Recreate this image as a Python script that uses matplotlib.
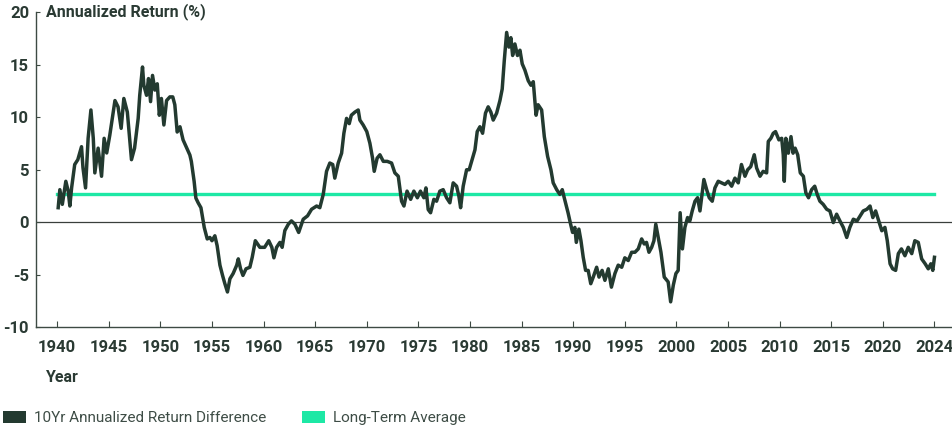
import matplotlib
matplotlib.use("Agg")
import matplotlib.pyplot as plt
from matplotlib.patches import Patch

plt.rcParams['font.family'] = ['Roboto', 'DejaVu Sans']

# ---- data ----
years = [
    1940.10, 1940.26, 1940.50, 1940.84, 1941.07, 1941.23, 1941.40, 1941.70, 1942.00, 1942.36,
    1942.50, 1942.75, 1943.00, 1943.27, 1943.50, 1943.65, 1943.97, 1944.30, 1944.55, 1944.80,
    1945.10, 1945.60, 1945.90, 1946.20, 1946.46, 1946.80, 1947.20, 1947.50, 1947.85, 1948.00,
    1948.27, 1948.40, 1948.66, 1948.85, 1949.05, 1949.24, 1949.47, 1949.70, 1949.90, 1950.10,
    1950.34, 1950.60, 1950.92, 1951.20, 1951.40, 1951.63, 1951.90, 1952.20, 1952.50, 1952.86,
    1953.00, 1953.27, 1953.44, 1953.66, 1953.93, 1954.25, 1954.54, 1954.80, 1955.00, 1955.28,
    1955.50, 1955.77, 1956.03, 1956.25, 1956.50, 1956.74, 1957.05, 1957.40, 1957.55, 1957.77,
    1958.00, 1958.30, 1958.67, 1958.90, 1959.20, 1959.64, 1960.10, 1960.50, 1960.80, 1961.00,
    1961.26, 1961.58, 1961.80, 1962.06, 1962.40, 1962.70, 1963.03, 1963.40, 1963.84, 1964.26,
    1964.65, 1965.14, 1965.45, 1965.78, 1966.10, 1966.42, 1966.70, 1966.90, 1967.23, 1967.56,
    1967.78, 1968.04, 1968.30, 1968.50, 1968.85, 1969.17, 1969.33, 1969.65, 1970.00, 1970.30,
    1970.56, 1970.72, 1971.00, 1971.27, 1971.60, 1971.98, 1972.40, 1972.72, 1973.05, 1973.37,
    1973.60, 1973.90, 1974.25, 1974.56, 1974.90, 1975.20, 1975.53, 1975.73, 1975.95, 1976.18,
    1976.50, 1976.76, 1977.08, 1977.40, 1977.73, 1978.05, 1978.37, 1978.70, 1978.92, 1979.09,
    1979.34, 1979.67, 1979.92, 1980.16, 1980.48, 1980.70, 1980.96, 1981.22, 1981.50, 1981.76,
    1982.02, 1982.25, 1982.58, 1982.90, 1983.12, 1983.32, 1983.55, 1983.77, 1983.96, 1984.13,
    1984.35, 1984.60, 1984.84, 1985.06, 1985.32, 1985.64, 1985.90, 1986.13, 1986.40, 1986.60,
    1986.94, 1987.20, 1987.52, 1987.84, 1988.06, 1988.40, 1988.70, 1988.94, 1989.13, 1989.50,
    1989.75, 1989.94, 1990.16, 1990.30, 1990.55, 1990.75, 1990.97, 1991.20, 1991.45, 1991.70,
    1991.94, 1992.27, 1992.50, 1992.80, 1993.07, 1993.40, 1993.70, 1994.04, 1994.36, 1994.70,
    1995.00, 1995.33, 1995.66, 1995.98, 1996.30, 1996.63, 1996.88, 1997.10, 1997.34, 1997.60,
    1997.82, 1998.00, 1998.24, 1998.50, 1998.82, 1999.20, 1999.44, 1999.70, 1999.95, 2000.17,
    2000.36, 2000.58, 2000.82, 2001.08, 2001.30, 2001.53, 2001.80, 2002.05, 2002.28, 2002.44,
    2002.66, 2002.93, 2003.18, 2003.47, 2003.73, 2004.05, 2004.38, 2004.70, 2005.02, 2005.35,
    2005.67, 2005.99, 2006.30, 2006.64, 2006.90, 2007.20, 2007.54, 2007.77, 2008.10, 2008.40,
    2008.74, 2008.90, 2009.15, 2009.38, 2009.60, 2009.93, 2010.20, 2010.35, 2010.45, 2010.60,
    2010.84, 2011.10, 2011.30, 2011.50, 2011.75, 2012.00, 2012.30, 2012.54, 2012.80, 2013.10,
    2013.40, 2013.64, 2013.90, 2014.22, 2014.56, 2014.87, 2015.20, 2015.52, 2015.84, 2016.17,
    2016.50, 2016.80, 2017.14, 2017.50, 2017.80, 2018.10, 2018.45, 2018.76, 2019.03, 2019.30,
    2019.55, 2019.90, 2020.20, 2020.43, 2020.70, 2020.95, 2021.24, 2021.50, 2021.80, 2022.14,
    2022.46, 2022.80, 2023.10, 2023.43, 2023.76, 2024.10, 2024.40, 2024.65, 2024.84, 2025.00,
]
return_diff = [
    1.38, 3.10, 1.70, 3.90, 2.96, 1.54, 3.27, 5.50, 5.96, 7.20,
    5.20, 3.27, 8.00, 10.70, 8.00, 4.70, 7.06, 4.38, 8.00, 6.60,
    8.30, 11.60, 11.00, 8.95, 11.80, 10.50, 5.96, 7.06, 9.90, 12.10,
    14.80, 13.05, 12.10, 13.70, 11.50, 14.00, 12.60, 13.20, 10.20, 11.80,
    9.27, 11.60, 11.95, 11.95, 11.20, 8.60, 9.10, 7.85, 7.20, 6.40,
    5.80, 3.90, 2.30, 1.85, 1.38, -0.50, -1.60, -1.46, -1.77, -1.30,
    -2.24, -4.10, -5.10, -5.87, -6.66, -5.40, -4.90, -4.10, -3.50, -4.45,
    -5.08, -4.45, -4.30, -3.35, -1.77, -2.40, -2.40, -1.77, -2.40, -3.40,
    -2.40, -1.93, -2.40, -0.80, -0.19, 0.12, -0.19, -0.98, 0.28, 0.60,
    1.23, 1.54, 1.38, 2.65, 4.85, 5.64, 5.50, 4.20, 5.64, 6.58,
    8.48, 9.90, 9.40, 10.20, 10.50, 10.70, 9.74, 9.27, 8.64, 7.53,
    6.10, 4.85, 6.10, 6.43, 5.80, 5.80, 5.64, 4.70, 4.38, 2.00,
    1.54, 2.96, 2.18, 2.96, 2.33, 2.96, 2.33, 3.27, 1.20, 0.90,
    2.18, 2.00, 2.96, 3.10, 2.33, 1.85, 3.75, 3.43, 2.49, 1.38,
    3.43, 5.00, 5.00, 5.80, 6.90, 8.64, 9.10, 8.48, 10.40, 11.00,
    10.50, 9.74, 10.40, 11.60, 12.70, 15.40, 18.10, 16.70, 17.60, 15.90,
    17.00, 15.90, 16.40, 15.10, 14.50, 13.50, 13.06, 13.40, 10.20, 11.20,
    10.70, 8.16, 6.27, 5.00, 3.75, 3.10, 2.65, 3.10, 2.33, 0.90,
    -0.20, -0.98, -0.50, -1.93, -0.66, -1.77, -3.35, -4.60, -4.60, -5.87,
    -5.24, -4.30, -5.24, -4.60, -5.55, -4.45, -6.20, -4.90, -4.10, -4.30,
    -3.40, -3.66, -2.87, -2.87, -2.55, -1.60, -2.08, -1.93, -2.87, -2.40,
    -1.77, -0.19, -1.46, -2.87, -5.24, -5.70, -7.60, -6.00, -4.90, -4.60,
    0.90, -2.55, -0.50, 0.44, 0.12, 1.07, 2.00, 2.33, 1.07, 2.33,
    4.07, 3.10, 2.33, 2.00, 3.27, 3.90, 3.75, 3.60, 3.90, 3.43,
    4.20, 3.75, 5.50, 4.38, 5.00, 5.30, 6.43, 5.17, 4.38, 4.85,
    4.70, 7.70, 8.00, 8.48, 8.64, 7.85, 8.00, 6.43, 3.90, 8.00,
    6.58, 8.16, 6.58, 7.06, 6.43, 4.70, 4.38, 2.80, 2.33, 3.10,
    3.43, 2.65, 2.00, 1.70, 1.23, 1.07, -0.04, 0.76, 0.12, -0.50,
    -1.46, -0.50, 0.28, 0.12, 0.60, 1.07, 1.23, 1.54, 0.44, 1.07,
    0.28, -0.82, -0.50, -1.77, -3.97, -4.45, -4.60, -3.00, -2.55, -3.20,
    -2.40, -3.00, -1.77, -1.93, -3.50, -3.97, -4.45, -3.97, -4.60, -3.35,
]
avg_span = [1940.0, 2025.0]
long_term_avg = 2.65

x_ticks = [1940, 1945, 1950, 1955, 1960, 1965, 1970, 1975, 1980, 1985,
           1990, 1995, 2000, 2005, 2010, 2015, 2020, 2025]
x_tick_labels = ["1940", "1945", "1950", "1955", "1960", "1965", "1970", "1975", "1980", "1985",
                 "1990", "1995", "2000", "2005", "2010", "2015", "2020", "2024"]
y_ticks = [-10, -5, 0, 5, 10, 15, 20]

LINE_C = "#233a30"
AVG_C = "#1de8a5"
TEXT_C = "#2a3a33"

fig = plt.figure(figsize=(9.52, 4.29), dpi=100)
ax = fig.add_axes([36 / 952, 1 - 327 / 429, 916 / 952, 314.5 / 429])

ax.axhline(0, color="#3a3f3c", linewidth=0.9, zorder=1)
ax.plot(avg_span, [long_term_avg, long_term_avg], color=AVG_C, linewidth=2.4, zorder=2)
ax.plot(years, return_diff, color=LINE_C, linewidth=2.5, solid_joinstyle="round", zorder=3)

ax.set_xlim(1937.95, 2026.7)
ax.set_ylim(-10, 20)
ax.set_xticks(x_ticks)
ax.set_xticklabels(x_tick_labels)
ax.set_yticks(y_ticks)
ax.set_yticklabels([str(v) for v in y_ticks])

for s in ["top", "right"]:
    ax.spines[s].set_visible(False)
for s in ["left", "bottom"]:
    ax.spines[s].set_color("#3d4a43")
    ax.spines[s].set_linewidth(1.0)

ax.tick_params(axis="x", direction="in", length=4, width=0.8, color="#3d4a43",
               labelsize=12, labelcolor=TEXT_C, pad=9)
ax.tick_params(axis="y", direction="in", length=3, width=0.8, color="#3d4a43",
               labelsize=12, labelcolor=TEXT_C, pad=5)
for lab in ax.get_xticklabels() + ax.get_yticklabels():
    lab.set_fontweight("bold")

fig.text(46 / 952, 1 - 12 / 429, "Annualized Return (%)", fontsize=11.5, fontweight="bold",
         color=TEXT_C, ha="left", va="center")
fig.text(46 / 952, 1 - 378 / 429, "Year", fontsize=11.5, fontweight="bold",
         color=TEXT_C, ha="left", va="center")

handles = [Patch(facecolor=LINE_C, edgecolor="none"), Patch(facecolor=AVG_C, edgecolor="none")]
leg = fig.legend(handles, ["10Yr Annualized Return Difference", "Long-Term Average"],
                 loc="center left", bbox_to_anchor=(0.0, 1 - 418 / 429), ncol=2, frameon=False,
                 fontsize=11, handlelength=1.5, handleheight=0.85, handletextpad=0.55,
                 columnspacing=2.3, borderaxespad=0, borderpad=0.2)
for t in leg.get_texts():
    t.set_color("#3e4d46")

fig.savefig("out.png", dpi=100)
